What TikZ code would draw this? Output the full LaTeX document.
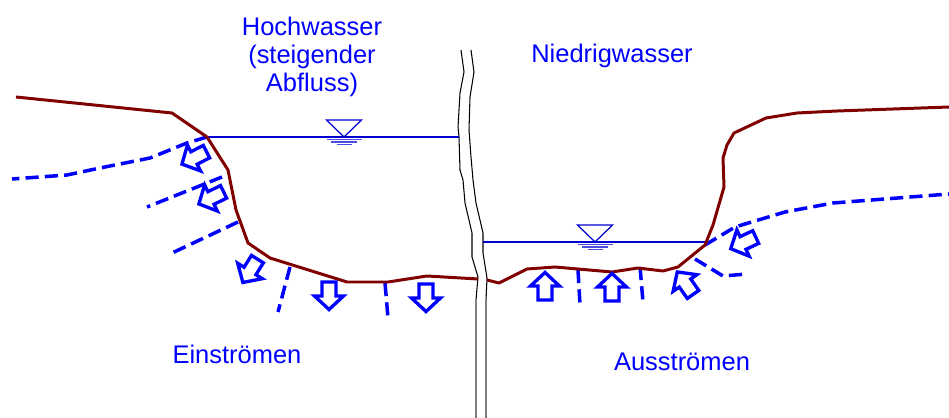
\documentclass[tikz,border=0pt]{standalone}
\usepackage{fontspec}
\setmainfont{Liberation Sans}
\definecolor{bankred}{RGB}{128,0,0}
\definecolor{flowblue}{RGB}{0,0,255}
\definecolor{levelblue}{RGB}{0,0,210}
\begin{document}
\begin{tikzpicture}[
x=0.02cm, y=-0.02cm,
bank/.style={draw=bankred, line width=1.7pt, line join=round},
groundwater/.style={draw=flowblue, line width=2pt, dash pattern=on 7.5pt off 3.5pt},
level/.style={draw=levelblue, line width=0.6pt},
breakline/.style={draw=black, line width=0.6pt},
flowtext/.style={text=flowblue, font=\fontsize{14.5}{16.2}\selectfont, align=center, inner sep=0pt},
flowarrow/.pic={
\draw[flowblue, line width=1.9pt, line join=miter]
(-14,-7) -- (0,-7) -- (0,-14.5) -- (13.5,0) -- (0,14.5) -- (0,7) -- (-14,7) -- cycle;
},
levelsign/.pic={
\draw[levelblue, line width=0.7pt] (-17.5,-17) -- (17.5,-17) -- (0,0) -- cycle;
\draw[levelblue!70, line width=0.7pt] (-17.5,2.5) -- (17.5,2.5);
\draw[levelblue!70, line width=0.7pt] (-13,5) -- (13,5);
\draw[levelblue!70, line width=0.7pt] (-7.5,7.5) -- (7.5,7.5);
}
]
\useasboundingbox (0,0) rectangle (949,418);

% section break
\draw[breakline] (461,50) -- (464,72) -- (460,93) -- (458,127) -- (459,137) -- (460,170)
  -- (463,180) -- (465,203) -- (472,233) -- (472,257) -- (478,277) -- (476,300);
\draw[breakline] (471,50) -- (474,72) -- (470,97) -- (469,130) -- (471,157) -- (473,180)
  -- (476,203) -- (483,233) -- (483,253) -- (487,278) -- (486,300);
\draw[breakline, gray] (476,300) -- (476,418);
\draw[breakline, gray] (486,300) -- (486,418);

% water levels
\draw[level] (207,137) -- (459,137);
\draw[level] (483,242) -- (705,242);
\pic at (344,137) {levelsign};
\pic at (595,242) {levelsign};

% groundwater lines
\draw[groundwater] (207,137) -- (187,143) -- (150,158) -- (100,168) -- (67,175) -- (12,179);
\draw[groundwater] (222,177) -- (147,207);
\draw[groundwater] (238,222) -- (172,253);
\draw[groundwater] (290,267) -- (278,312);
\draw[groundwater] (385,283) -- (388,318);
\draw[groundwater] (578,270) -- (580,305);
\draw[groundwater] (640,267) -- (643,302);
\draw[groundwater] (705,245) -- (735,227) -- (785,212) -- (833,203) -- (949,194);
\draw[groundwater] (695,259) -- (723,276) -- (747,274);

% river banks
\draw[bank] (16,97) -- (172,113) -- (207,137) -- (228,170) -- (236,210) -- (248,243)
  -- (270,258) -- (347,282) -- (388,282) -- (427,276) -- (478,279);
\draw[bank] (487,280) -- (499,283) -- (527,269) -- (555,267) -- (612,272) -- (638,268)
  -- (663,271) -- (678,267) -- (705,245) -- (713,225) -- (724,187) -- (723,158)
  -- (727,145) -- (734,133) -- (766,118) -- (797,113) -- (837,111) -- (949,107);

% seepage
\pic[rotate=207] at (194,158) {flowarrow};
\pic[rotate=206] at (211,198) {flowarrow};
\pic[rotate=238] at (250,271) {flowarrow};
\pic[rotate=270] at (329,296) {flowarrow};
\pic[rotate=270] at (426,298) {flowarrow};
\pic[rotate=90] at (545,286) {flowarrow};
\pic[rotate=90] at (612,287) {flowarrow};
\pic[rotate=125] at (685,283) {flowarrow};
\pic[rotate=205] at (743,243) {flowarrow};

\node[flowtext, anchor=base] (hochwasser) at (312,92) {Hochwasser\\(steigender\\Abfluss)};
\node[flowtext, anchor=base] (niedrigwasser) at (612,63) {Niedrigwasser};
\node[flowtext, anchor=base] (einstroemen) at (237,363) {Einströmen};
\node[flowtext, anchor=base] (ausstroemen) at (682,370) {Ausströmen};
\end{tikzpicture}
\end{document}
